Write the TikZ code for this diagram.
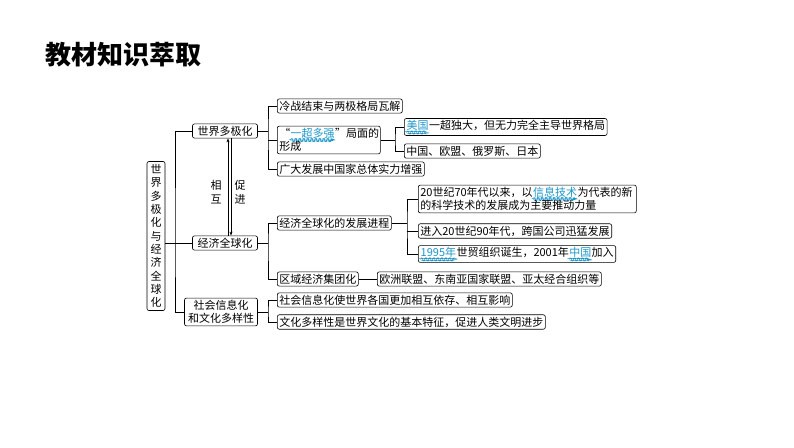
\documentclass[tikz,border=0pt]{standalone}
\usepackage{fontspec}
\setmainfont{Noto Sans CJK SC}
\usetikzlibrary{decorations.pathmorphing,arrows.meta}
\definecolor{hl}{RGB}{30,150,200}
\newcommand{\hlw}[1]{\tikz[baseline=(w.base)]{\node[inner sep=0pt,text=hl](w){#1};\draw[hl,decorate,decoration={snake,amplitude=0.8pt,segment length=4pt}]([yshift=-1.5pt]w.south west)--([yshift=-1.5pt]w.south east);}}
\tikzset{
 bx/.style={draw,rounded corners=2pt,inner sep=2pt,font=\fontsize{11}{13.5}\selectfont,anchor=west,line width=0.6pt},
 ln/.style={line width=0.6pt}
}
\begin{document}
\begin{tikzpicture}[x=1pt,y=-1pt]
\useasboundingbox (0,0) rectangle (794,447);
\node[anchor=west,font=\fontsize{26}{28}\selectfont\bfseries] (title) at (42,55) {教材知识萃取};
\node[bx,anchor=center,text width=12pt,align=center,inner sep=3pt,font=\fontsize{11}{13.3}\selectfont] (root) at (156,236) {世\\界\\多\\极\\化\\与\\经\\济\\全\\球\\化};
\node[bx,anchor=center,minimum width=65pt] (a) at (225,131) {世界多极化};
\node[bx,anchor=center,minimum width=73pt,align=center] (c) at (221,312) {社会信息化\\和文化多样性};
\node[bx,anchor=center,minimum width=65pt] (b) at (225,243) {经济全球化};
\node[bx] (a1) at (277,106) {冷战结束与两极格局瓦解};
\node[bx,text width=99pt] (a2) at (277,140) {“\hlw{一超多强}”局面的\\形成};
\node[bx] (a3) at (277,169) {广大发展中国家总体实力增强};
\node[bx] (a21) at (404,127) {\hlw{美国}一超独大，但无力完全主导世界格局};
\node[bx] (a22) at (404,151) {中国、欧盟、俄罗斯、日本};
\node[bx] (b1) at (277,223) {经济全球化的发展进程};
\node[bx,text width=214pt] (b11) at (418,199) {20世纪70年代以来，以\hlw{信息技术}为代表的新\\的科学技术的发展成为主要推动力量};
\node[bx] (b12) at (418,231) {进入20世纪90年代，跨国公司迅猛发展};
\node[bx] (b13) at (418,254) {\hlw{1995年}世贸组织诞生，2001年\hlw{中国}加入};
\node[bx] (b2) at (277,279) {区域经济集团化};
\node[bx] (b21) at (377,279) {欧洲联盟、东南亚国家联盟、亚太经合组织等};
\node[bx] (c1) at (277,300) {社会信息化使世界各国更加相互依存、相互影响};
\node[bx] (c2) at (277,322) {文化多样性是世界文化的基本特征，促进人类文明进步};
% connectors
\coordinate (r0) at (175,243);
\draw[ln] (root.east|-r0) -- (r0);
\draw[ln] (a.west) -| (r0) |- (c.west);
\draw[ln] (b.west) -- (r0);
\coordinate (ta) at (268,131);
\draw[ln] (a.east) -- (ta);
\draw[ln] (a1.west) -| (ta) |- (a3.west);
\draw[ln] (a2.west) -- (a2.west-|ta);
\coordinate (ta2) at (395,140);
\draw[ln] (a2.east) -- (a2.east-|ta2);
\draw[ln] (a21.west) -| (ta2) |- (a22.west);
\coordinate (tb) at (268,243);
\draw[ln] (b.east) -- (tb);
\draw[ln] (b1.west) -| (tb) |- (b2.west);
\coordinate (tb1) at (407,223);
\draw[ln] (b1.east) -- (tb1);
\draw[ln] (b11.west) -| (tb1) |- (b13.west);
\draw[ln] (b12.west) -- (b12.west-|tb1);
\draw[ln] (b2.east) -- (b21.west);
\coordinate (tc) at (268,312);
\draw[ln] (c.east) -- (tc);
\draw[ln] (c1.west) -| (tc) |- (c2.west);
% arrows
\draw[ln,-{Stealth[length=4pt]}] ([xshift=3pt]b.north) -- ([xshift=3pt]a.south);
\draw[ln,-{Stealth[length=4pt]}] ([xshift=6pt]a.south) -- ([xshift=6pt]b.north);
\node[font=\fontsize{11}{14}\selectfont,align=center] (m1) at (216,192) {相\\互};
\node[font=\fontsize{11}{14}\selectfont,align=center] (m2) at (240,192) {促\\进};
\end{tikzpicture}
\end{document}
